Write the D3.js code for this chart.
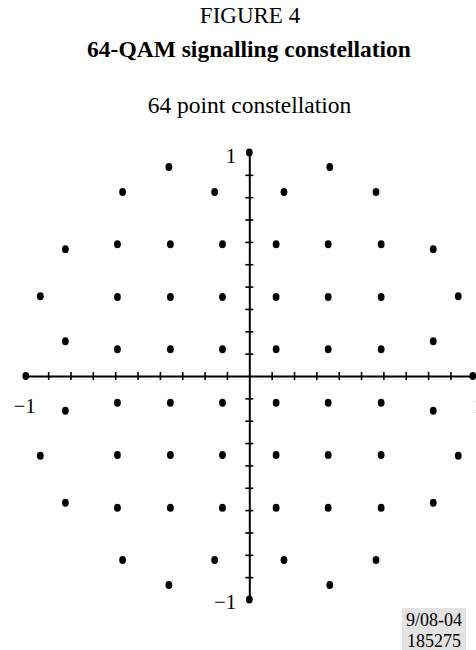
<!DOCTYPE html>
<html>
<head>
<meta charset="utf-8">
<script src="https://cdn.jsdelivr.net/npm/d3@7"></script>
<style>
  html, body { margin: 0; padding: 0; background: #fff; }
  svg { display: block; }
  text { font-family: "Liberation Serif", "Times New Roman", serif; fill: #000; }
</style>
</head>
<body>
<svg id="chart" width="476" height="650"></svg>
<script>
// 64-QAM constellation points, [in-phase, quadrature]
const innerPoints = [
  [-0.59, 0.59], [-0.353, 0.59], [-0.12, 0.59], [0.12, 0.59], [0.353, 0.59], [0.59, 0.59],
  [-0.59, 0.353], [-0.353, 0.353], [-0.12, 0.353], [0.12, 0.353], [0.353, 0.353], [0.59, 0.353],
  [-0.59, 0.12], [-0.353, 0.12], [-0.12, 0.12], [0.12, 0.12], [0.353, 0.12], [0.59, 0.12],
  [-0.59, -0.12], [-0.353, -0.12], [-0.12, -0.12], [0.12, -0.12], [0.353, -0.12], [0.59, -0.12],
  [-0.59, -0.353], [-0.353, -0.353], [-0.12, -0.353], [0.12, -0.353], [0.353, -0.353], [0.59, -0.353],
  [-0.59, -0.59], [-0.353, -0.59], [-0.12, -0.59], [0.12, -0.59], [0.353, -0.59], [0.59, -0.59]
];
const outerPoints = [
  [-0.36, 0.935], [0.36, 0.935],
  [-0.567, 0.823], [-0.155, 0.823], [0.155, 0.823], [0.567, 0.823],
  [-0.823, 0.567], [0.823, 0.567],
  [-0.935, 0.357], [0.935, 0.357],
  [-0.823, 0.155], [0.823, 0.155],
  [-0.823, -0.155], [0.823, -0.155],
  [-0.935, -0.357], [0.935, -0.357],
  [-0.823, -0.567], [0.823, -0.567],
  [-0.567, -0.823], [-0.155, -0.823], [0.155, -0.823], [0.567, -0.823],
  [-0.36, -0.935], [0.36, -0.935]
];
const axisPoints = [[0, 1], [-1, 0], [1, 0], [0, -1]];

const tickValues = [-0.9, -0.8, -0.7, -0.6, -0.5, -0.4, -0.3, -0.2, -0.1,
                    0.1, 0.2, 0.3, 0.4, 0.5, 0.6, 0.7, 0.8, 0.9];

const figureLabel = "FIGURE 4";
const titleText = "64-QAM signalling constellation";
const subtitleText = "64 point constellation";
const stampLines = ["9/08-04", "185275"];

const svg = d3.select("#chart");

const x = d3.scaleLinear().domain([-1, 1]).range([25.8, 472.8]);
const y = d3.scaleLinear().domain([-1, 1]).range([599.5, 152.5]);

// headings
svg.append("text").attr("x", 250).attr("y", 23).attr("text-anchor", "middle")
  .style("font-size", "23px").text(figureLabel);
svg.append("text").attr("x", 249).attr("y", 57).attr("text-anchor", "middle")
  .style("font-size", "23.5px").style("font-weight", "bold").text(titleText);
svg.append("text").attr("x", 249.5).attr("y", 113).attr("text-anchor", "middle")
  .style("font-size", "23.5px").text(subtitleText);

// axes crossing at the origin, ticks straddle the line
const xAxis = d3.axisBottom(x).tickValues(tickValues).tickSizeInner(8).tickSizeOuter(0).tickFormat("");
const yAxis = d3.axisLeft(y).tickValues(tickValues).tickSizeInner(8).tickSizeOuter(0).tickFormat("");

const gx = svg.append("g").attr("transform", `translate(0,${y(0)})`).call(xAxis);
gx.select(".domain").attr("stroke", "#000").attr("stroke-width", 2);
gx.selectAll(".tick line").attr("y1", -4).attr("y2", 4).attr("stroke", "#000").attr("stroke-width", 1.6);

const gy = svg.append("g").attr("transform", `translate(${x(0)},0)`).call(yAxis);
gy.select(".domain").attr("stroke", "#000").attr("stroke-width", 2);
gy.selectAll(".tick line").attr("x1", -4).attr("x2", 4).attr("stroke", "#000").attr("stroke-width", 1.6);

// axis end labels
const labelSize = "21px";
svg.append("text").attr("x", x(0) - 13).attr("y", y(1) + 10).attr("text-anchor", "end")
  .style("font-size", labelSize).text("1");
svg.append("text").attr("x", x(0) - 13).attr("y", y(-1) + 9).attr("text-anchor", "end")
  .style("font-size", labelSize).text("\u22121");
svg.append("text").attr("x", x(-1) + 10).attr("y", y(0) + 37).attr("text-anchor", "end")
  .style("font-size", labelSize).text("\u22121");
svg.append("text").attr("x", x(1) + 1).attr("y", y(0) + 37).attr("text-anchor", "start")
  .style("font-size", labelSize).text("1");

// constellation points
const allPoints = innerPoints.concat(outerPoints, axisPoints);
svg.append("g").selectAll("ellipse").data(allPoints).join("ellipse")
  .attr("cx", d => x(d[0])).attr("cy", d => y(d[1]))
  .attr("rx", 3.4).attr("ry", 4).attr("fill", "#000");

// reference stamp
svg.append("rect").attr("x", 402).attr("y", 608).attr("width", 64).attr("height", 42).attr("fill", "#e3e3e3");
svg.append("g").selectAll("text").data(stampLines).join("text")
  .attr("x", 434).attr("y", (d, i) => 626 + i * 21).attr("text-anchor", "middle")
  .style("font-size", "18px").text(d => d);
</script>
</body>
</html>
